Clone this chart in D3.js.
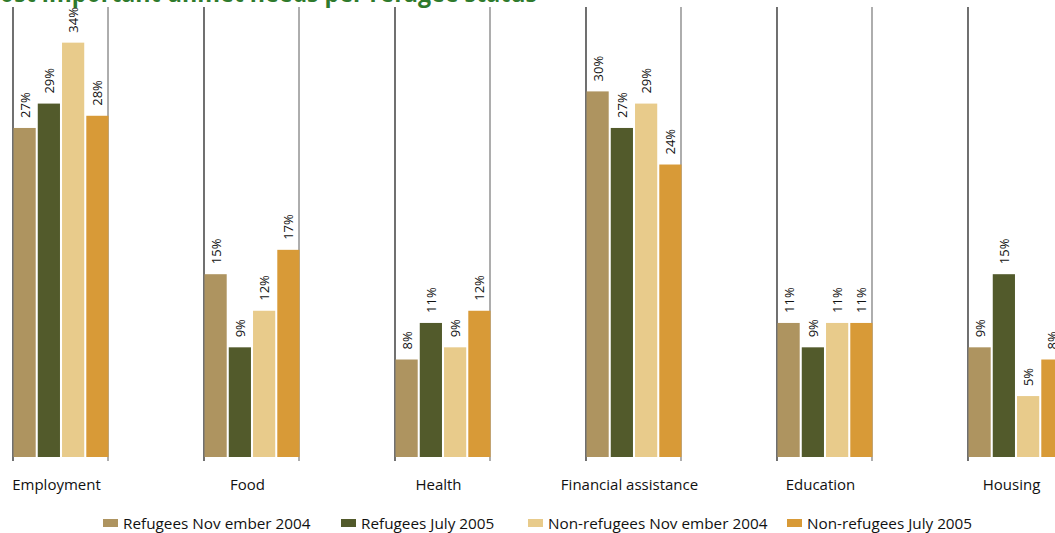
<!DOCTYPE html>
<html>
<head>
<meta charset="utf-8">
<script src="https://cdn.jsdelivr.net/npm/d3@7"></script>
<style>
  body { margin: 0; background: #fff; }
  svg { display: block; font-family: "Open Sans", "Noto Sans", sans-serif; }
</style>
</head>
<body>
<svg></svg>
<script>
// data
const categories = ['Employment', 'Food', 'Health', 'Financial assistance', 'Education', 'Housing'];
const series = ['Refugees Nov ember 2004', 'Refugees July 2005', 'Non-refugees Nov ember 2004', 'Non-refugees July 2005'];
const refNov04 = [27, 15, 8, 30, 11, 9];
const refJul05 = [29, 9, 11, 27, 9, 15];
const nonNov04 = [34, 12, 9, 29, 11, 5];
const nonJul05 = [28, 17, 12, 24, 11, 8];
const colors = ['#ae9460', '#525a2b', '#e8cb8b', '#d89a37'];

const size = {w: 1055, h: 533};
const svg = d3.select('svg')
    .attr('width', size.w)
    .attr('height', size.h);

const values = [refNov04, refJul05, nonNov04, nonJul05];

// outer band per category, 191px apart, 95px wide
const x0 = d3.scaleBand()
    .domain(categories)
    .range([13, 1063])
    .paddingInner(0.5026)
    .paddingOuter(0);

const x1 = d3.scaleBand()
    .domain(series)
    .range([0, x0.bandwidth()])
    .paddingInner(0.085);

const y = d3.scaleLinear()
    .domain([0, 37.5])
    .range([457, 0]);

// title (cut off at the top)
svg.append('text')
    .attr('x', -22)
    .attr('y', 2)
    .attr('textLength', 559)
    .attr('lengthAdjust', 'spacingAndGlyphs')
    .attr('font-size', 26)
    .attr('font-weight', 'bold')
    .attr('fill', '#2f7a2c')
    .text('Most important unmet needs per refugee status');

const groups = svg.append('g').selectAll('g')
    .data(categories)
    .join('g')
    .attr('transform', d => `translate(${x0(d)},0)`);

// bracket lines either side of each group
groups.append('line')
    .attr('x1', 0).attr('x2', 0)
    .attr('y1', 7).attr('y2', 461)
    .attr('stroke', '#111')
    .attr('stroke-width', 1.2);
groups.append('line')
    .attr('x1', x0.bandwidth()).attr('x2', x0.bandwidth())
    .attr('y1', 7).attr('y2', 461)
    .attr('stroke', '#777')
    .attr('stroke-width', 1.2);

groups.each(function (cat, ci) {
    const g = d3.select(this);
    const rows = series.map((s, si) => ({s, si, v: values[si][ci]}));

    g.selectAll('rect')
        .data(rows)
        .join('rect')
        .attr('x', d => x1(d.s) + 0.5)
        .attr('y', d => y(d.v))
        .attr('width', x1.bandwidth())
        .attr('height', d => y(0) - y(d.v))
        .attr('fill', d => colors[d.si]);

    g.selectAll('text.val')
        .data(rows)
        .join('text')
        .classed('val', true)
        .attr('transform', d => `translate(${x1(d.s) + 0.5 + x1.bandwidth() / 2 + 5},${y(d.v) - 10}) rotate(-90)`)
        .attr('font-size', 13)
        .attr('fill', '#111')
        .text(d => d.v + '%');

    g.append('text')
        .attr('x', x0.bandwidth() / 2 - 4)
        .attr('y', 490)
        .attr('text-anchor', 'middle')
        .attr('font-size', 15)
        .attr('fill', '#111')
        .text(cat);
});

// legend
const legendX = [103, 341, 528, 787];
const legend = svg.append('g').selectAll('g')
    .data(series)
    .join('g')
    .attr('transform', (d, i) => `translate(${legendX[i]},519)`);
legend.append('rect')
    .attr('width', 15)
    .attr('height', 8)
    .attr('fill', (d, i) => colors[i]);
legend.append('text')
    .attr('x', 20)
    .attr('y', 9.5)
    .attr('font-size', 15.3)
    .attr('fill', '#111')
    .text(d => d);
</script>
</body>
</html>
